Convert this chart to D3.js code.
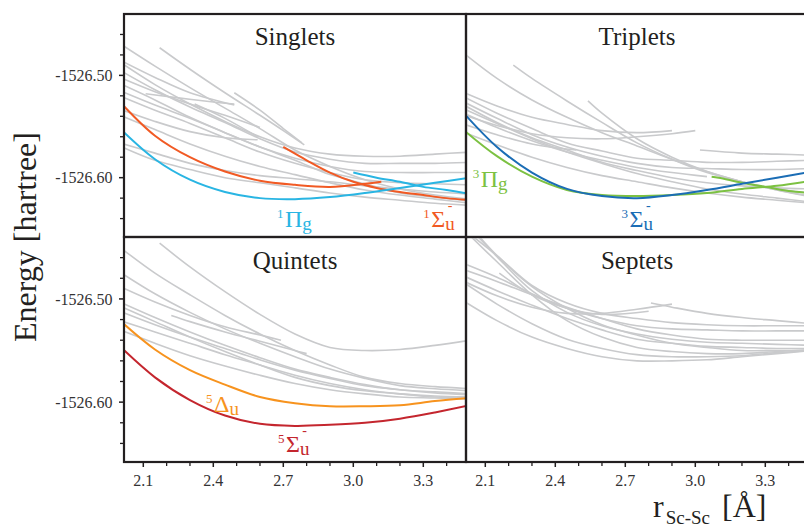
<!DOCTYPE html>
<html><head><meta charset="utf-8">
<script src="https://cdn.jsdelivr.net/npm/d3@7"></script>
<style>
body{margin:0;background:#fff}
svg{display:block}
</style>
</head><body><svg id="c" width="804" height="527"></svg>
<script>
// ---------- data ----------
const rGrid = [2.0, 2.15, 2.3, 2.45, 2.6, 2.75, 2.9, 3.05, 3.2, 3.35, 3.5];
const xTicksMajor = [2.1, 2.4, 2.7, 3.0, 3.3];
const xTickLabels = ["2.1", "2.4", "2.7", "3.0", "3.3"];
const xTicksMinor = [2.2, 2.3, 2.5, 2.6, 2.8, 2.9, 3.1, 3.2, 3.4];
const yTicksMajor = [-1526.5, -1526.6];
const yTickLabels = ["-1526.50", "-1526.60"];
const yTicksMinor = [-1526.64, -1526.62, -1526.58, -1526.56, -1526.54, -1526.52, -1526.48, -1526.46];
const panelTitles = ["Singlets", "Triplets", "Quintets", "Septets"];
const xDomain = [2.0173, 3.483];
const yDomain = [-1526.658, -1526.440];

const onGrid = E => E.map((e, i) => [rGrid[i], e]);
const zipRE = (r, E) => r.map((v, i) => [v, E[i]]);

// Singlets
const singletGrey = [
  onGrid([-1526.469,-1526.491,-1526.512,-1526.532,-1526.552,-1526.573,-1526.589,-1526.602,-1526.611,-1526.617,-1526.621]),
  onGrid([-1526.487,-1526.509,-1526.528,-1526.545,-1526.560,-1526.571,-1526.577,-1526.579,-1526.579,-1526.577,-1526.575]),
  onGrid([-1526.495,-1526.514,-1526.531,-1526.546,-1526.562,-1526.575,-1526.582,-1526.586,-1526.586,-1526.586,-1526.585]),
  onGrid([-1526.508,-1526.524,-1526.541,-1526.556,-1526.570,-1526.581,-1526.589,-1526.594,-1526.595,-1526.595,-1526.595]),
  onGrid([-1526.515,-1526.529,-1526.542,-1526.556,-1526.570,-1526.583,-1526.597,-1526.606,-1526.615,-1526.619,-1526.623]),
  onGrid([-1526.520,-1526.534,-1526.547,-1526.561,-1526.575,-1526.586,-1526.595,-1526.602,-1526.605,-1526.606,-1526.607]),
  onGrid([-1526.539,-1526.553,-1526.567,-1526.579,-1526.589,-1526.597,-1526.605,-1526.612,-1526.617,-1526.621,-1526.625]),
  onGrid([-1526.566,-1526.576,-1526.586,-1526.593,-1526.598,-1526.601,-1526.604,-1526.608,-1526.611,-1526.614,-1526.616]),
  onGrid([-1526.569,-1526.583,-1526.592,-1526.600,-1526.605,-1526.610,-1526.615,-1526.619,-1526.622,-1526.625,-1526.627]),
  zipRE([2.17,2.3,2.45,2.6,2.7,2.79], [-1526.473,-1526.494,-1526.517,-1526.539,-1526.554,-1526.568]),
  zipRE([2.49,2.6,2.7,2.78], [-1526.517,-1526.534,-1526.552,-1526.566]),
  zipRE([2.0,2.15,2.3,2.49], [-1526.485,-1526.502,-1526.517,-1526.529]),
  zipRE([2.0,2.15,2.3,2.45,2.6], [-1526.502,-1526.516,-1526.528,-1526.539,-1526.551]),
  zipRE([2.11,2.25,2.4,2.49], [-1526.518,-1526.522,-1526.526,-1526.528]),
  zipRE([2.32,2.45,2.59], [-1526.528,-1526.542,-1526.560]),
  zipRE([2.0,2.15,2.3,2.45,2.59], [-1526.533,-1526.545,-1526.555,-1526.561,-1526.563])
];
const singletPi1g = [
  onGrid([-1526.552,-1526.582,-1526.602,-1526.614,-1526.620,-1526.621,-1526.619,-1526.615,-1526.610,-1526.605,-1526.600]),
  zipRE([3.0,3.1,3.2,3.3,3.4,3.5], [-1526.595,-1526.600,-1526.604,-1526.609,-1526.612,-1526.616])
];
const singletSig1u = [
  zipRE([2.0,2.15,2.3,2.45,2.6,2.75,2.9,3.05,3.12], [-1526.526,-1526.559,-1526.580,-1526.594,-1526.603,-1526.607,-1526.609,-1526.606,-1526.604]),
  zipRE([2.7,2.8,2.9,3.0,3.1,3.2,3.3,3.4,3.5], [-1526.570,-1526.583,-1526.595,-1526.604,-1526.610,-1526.614,-1526.617,-1526.620,-1526.622])
];

// Triplets
const tripletGrey = [
  onGrid([-1526.477,-1526.503,-1526.524,-1526.541,-1526.556,-1526.569,-1526.582,-1526.594,-1526.604,-1526.612,-1526.619]),
  onGrid([-1526.520,-1526.537,-1526.552,-1526.566,-1526.574,-1526.581,-1526.583,-1526.585,-1526.585,-1526.584,-1526.583]),
  onGrid([-1526.525,-1526.542,-1526.558,-1526.570,-1526.579,-1526.586,-1526.590,-1526.591,-1526.592,-1526.592,-1526.591]),
  onGrid([-1526.532,-1526.547,-1526.562,-1526.575,-1526.586,-1526.596,-1526.604,-1526.611,-1526.616,-1526.620,-1526.624]),
  onGrid([-1526.555,-1526.568,-1526.580,-1526.590,-1526.598,-1526.604,-1526.610,-1526.615,-1526.619,-1526.622,-1526.625]),
  onGrid([-1526.528,-1526.546,-1526.561,-1526.573,-1526.585,-1526.593,-1526.600,-1526.605,-1526.608,-1526.610,-1526.611]),
  zipRE([2.22,2.3,2.45,2.6,2.75,2.9,3.05,3.2,3.35,3.5], [-1526.490,-1526.503,-1526.525,-1526.546,-1526.566,-1526.582,-1526.595,-1526.604,-1526.611,-1526.615]),
  zipRE([2.54,2.6,2.75,2.9,3.05,3.2,3.35,3.5], [-1526.525,-1526.537,-1526.562,-1526.580,-1526.594,-1526.604,-1526.612,-1526.618]),
  zipRE([2.0,2.15,2.3,2.45,2.6,2.75,2.9], [-1526.516,-1526.530,-1526.541,-1526.548,-1526.554,-1526.556,-1526.554]),
  zipRE([2.0,2.15,2.3,2.45,2.6,2.75,2.9,3.0], [-1526.538,-1526.549,-1526.557,-1526.561,-1526.562,-1526.560,-1526.557,-1526.554]),
  zipRE([2.0,2.15,2.3,2.49], [-1526.547,-1526.558,-1526.567,-1526.573]),
  zipRE([3.02,3.2,3.35,3.5], [-1526.573,-1526.576,-1526.577,-1526.578]),
  zipRE([2.0,2.15,2.3,2.45,2.6,2.75,2.9,3.05], [-1526.536,-1526.551,-1526.564,-1526.575,-1526.583,-1526.590,-1526.595,-1526.599])
];
const tripletPi3g = [
  onGrid([-1526.552,-1526.579,-1526.599,-1526.612,-1526.617,-1526.618,-1526.617,-1526.615,-1526.611,-1526.608,-1526.603]),
  zipRE([3.07,3.1,3.2,3.3,3.4,3.5], [-1526.599,-1526.600,-1526.605,-1526.609,-1526.613,-1526.615])
];
const tripletSig3u = [
  onGrid([-1526.535,-1526.570,-1526.595,-1526.611,-1526.618,-1526.620,-1526.617,-1526.612,-1526.606,-1526.600,-1526.594])
];

// Quintets
const quintetGrey = [
  onGrid([-1526.450,-1526.475,-1526.496,-1526.516,-1526.534,-1526.550,-1526.564,-1526.576,-1526.582,-1526.585,-1526.587]),
  onGrid([-1526.474,-1526.495,-1526.513,-1526.529,-1526.543,-1526.556,-1526.568,-1526.577,-1526.584,-1526.587,-1526.589]),
  onGrid([-1526.503,-1526.518,-1526.532,-1526.545,-1526.557,-1526.568,-1526.576,-1526.583,-1526.588,-1526.590,-1526.592]),
  onGrid([-1526.507,-1526.522,-1526.537,-1526.551,-1526.564,-1526.576,-1526.584,-1526.589,-1526.592,-1526.594,-1526.595]),
  onGrid([-1526.512,-1526.525,-1526.537,-1526.548,-1526.559,-1526.569,-1526.577,-1526.584,-1526.588,-1526.591,-1526.593]),
  onGrid([-1526.521,-1526.532,-1526.543,-1526.554,-1526.564,-1526.574,-1526.582,-1526.588,-1526.592,-1526.595,-1526.596]),
  onGrid([-1526.530,-1526.543,-1526.555,-1526.565,-1526.574,-1526.582,-1526.588,-1526.592,-1526.595,-1526.596,-1526.597]),
  zipRE([2.17,2.3,2.45,2.6,2.75,2.9,3.05,3.2,3.35,3.5], [-1526.446,-1526.469,-1526.493,-1526.515,-1526.534,-1526.547,-1526.550,-1526.549,-1526.545,-1526.540]),
  zipRE([2.0,2.15,2.3,2.45,2.6,2.69], [-1526.488,-1526.503,-1526.516,-1526.527,-1526.535,-1526.540]),
  zipRE([2.22,2.3,2.45,2.6,2.75,2.8], [-1526.516,-1526.522,-1526.532,-1526.541,-1526.550,-1526.553])
];
const quintetDel5u = [
  onGrid([-1526.521,-1526.549,-1526.569,-1526.583,-1526.595,-1526.601,-1526.604,-1526.604,-1526.603,-1526.599,-1526.596])
];
const quintetSig5u = [
  onGrid([-1526.546,-1526.576,-1526.598,-1526.613,-1526.621,-1526.623,-1526.622,-1526.620,-1526.616,-1526.610,-1526.603])
];

// Septets
const septetGrey = [
  onGrid([-1526.465,-1526.479,-1526.495,-1526.509,-1526.519,-1526.526,-1526.529,-1526.530,-1526.531,-1526.531,-1526.531]),
  onGrid([-1526.471,-1526.483,-1526.496,-1526.508,-1526.519,-1526.529,-1526.535,-1526.539,-1526.540,-1526.540,-1526.540]),
  onGrid([-1526.477,-1526.492,-1526.506,-1526.519,-1526.530,-1526.539,-1526.543,-1526.546,-1526.547,-1526.548,-1526.548]),
  onGrid([-1526.501,-1526.521,-1526.537,-1526.548,-1526.556,-1526.560,-1526.560,-1526.559,-1526.556,-1526.553,-1526.550]),
  onGrid([-1526.483,-1526.505,-1526.524,-1526.539,-1526.548,-1526.554,-1526.556,-1526.556,-1526.555,-1526.552,-1526.550]),
  zipRE([2.05,2.15,2.3,2.45,2.6,2.75,2.9,3.05,3.2,3.35,3.5], [-1526.440,-1526.458,-1526.487,-1526.504,-1526.514,-1526.519,-1526.523,-1526.525,-1526.526,-1526.526,-1526.526]),
  zipRE([2.07,2.15,2.3,2.45,2.6,2.75,2.9,3.05,3.2,3.35,3.5], [-1526.440,-1526.459,-1526.492,-1526.513,-1526.526,-1526.534,-1526.539,-1526.542,-1526.543,-1526.544,-1526.545]),
  zipRE([2.08,2.15,2.3,2.45,2.6,2.75,2.9,3.05,3.2,3.35,3.5], [-1526.441,-1526.458,-1526.488,-1526.509,-1526.525,-1526.535,-1526.543,-1526.547,-1526.550,-1526.550,-1526.550]),
  zipRE([2.04,2.15,2.3,2.45,2.6,2.75,2.9,3.05,3.2,3.35,3.5], [-1526.440,-1526.464,-1526.496,-1526.521,-1526.537,-1526.547,-1526.551,-1526.553,-1526.553,-1526.551,-1526.549]),
  zipRE([2.0,2.15,2.3,2.45,2.6,2.75,2.9], [-1526.482,-1526.497,-1526.508,-1526.514,-1526.514,-1526.510,-1526.505]),
  zipRE([2.81,2.9,3.05,3.2,3.35,3.5], [-1526.504,-1526.508,-1526.514,-1526.518,-1526.521,-1526.524]),
  zipRE([2.16,2.3,2.45,2.6,2.8], [-1526.475,-1526.496,-1526.509,-1526.515,-1526.512])
];

const colors = {grey:"#c9cacc", pi1g:"#29b5e3", sig1u:"#f15a24", pi3g:"#7cc142", sig3u:"#1b6db5", del5u:"#f7931e", sig5u:"#c4262e"};

const stateLabels = [
  {panel:0, sup:"1", main:"\u03A0", sub:"g", minus:false, r:2.673, E:-1526.6482, color:colors.pi1g},
  {panel:0, sup:"1", main:"\u03A3", sub:"u", minus:true,  r:3.300, E:-1526.6478, color:colors.sig1u},
  {panel:1, sup:"3", main:"\u03A0", sub:"g", minus:false, r:2.046, E:-1526.6095, color:colors.pi3g},
  {panel:1, sup:"3", main:"\u03A3", sub:"u", minus:true,  r:2.684, E:-1526.6486, color:colors.sig3u},
  {panel:2, sup:"5", main:"\u0394", sub:"u", minus:false, r:2.369, E:-1526.6097, color:colors.del5u},
  {panel:2, sup:"5", main:"\u03A3", sub:"u", minus:true,  r:2.677, E:-1526.6485, color:colors.sig5u}
];

const panels = [
  {grey:singletGrey, states:[{c:colors.sig1u, curves:singletSig1u},{c:colors.pi1g, curves:singletPi1g}]},
  {grey:tripletGrey, states:[{c:colors.pi3g, curves:tripletPi3g},{c:colors.sig3u, curves:tripletSig3u}]},
  {grey:quintetGrey, states:[{c:colors.del5u, curves:quintetDel5u},{c:colors.sig5u, curves:quintetSig5u}]},
  {grey:septetGrey, states:[]}
];
const layout = [
  {x:124, y:14, w:342, h:223, left:true, bottom:false},
  {x:466, y:14, w:342, h:223, left:false, bottom:false},
  {x:124, y:237, w:342, h:225, left:true, bottom:true},
  {x:466, y:237, w:342, h:225, left:false, bottom:true}
];

// ---------- pick an installed serif face, if any ----------
function pickSerif() {
  const cands = ["Liberation Serif", "Times New Roman", "Times", "Tinos", "DejaVu Serif", "Noto Serif", "FreeSerif", "Nimbus Roman", "Nimbus Roman No9 L"];
  const cv = document.createElement("canvas").getContext("2d");
  const s = "Singlets Energy [hartree] 1526.50 WMwmil";
  const base = {};
  ["monospace", "sans-serif"].forEach(b => { cv.font = "40px " + b; base[b] = cv.measureText(s).width; });
  for (const f of cands) {
    let ok = false;
    ["monospace", "sans-serif"].forEach(b => {
      cv.font = `40px "${f}", ${b}`;
      if (Math.abs(cv.measureText(s).width - base[b]) > 0.5) ok = true;
    });
    if (ok) return `"${f}", serif`;
  }
  return "serif";
}
const fontFam = pickSerif();

// ---------- drawing ----------
const svg = d3.select("#c").style("font-family", fontFam);
const ink = "#231f20";

panels.forEach((p, i) => {
  const L = layout[i];
  const x = d3.scaleLinear().domain(xDomain).range([0, L.w]);
  const y = d3.scaleLinear().domain(yDomain).range([L.h, 0]);
  const g = svg.append("g").attr("transform", `translate(${L.x},${L.y})`);
  const cid = "clip" + i;
  g.append("clipPath").attr("id", cid).append("rect").attr("width", L.w).attr("height", L.h);
  const line = d3.line().x(d => x(d[0])).y(d => y(d[1])).curve(d3.curveCatmullRom.alpha(0.5));
  const plot = g.append("g").attr("clip-path", `url(#${cid})`);
  plot.selectAll("path.grey").data(p.grey).join("path").attr("class", "grey")
    .attr("d", line).attr("fill", "none").attr("stroke", colors.grey).attr("stroke-width", 1.6);
  p.states.forEach(s => {
    plot.selectAll(null).data(s.curves).join("path")
      .attr("d", line).attr("fill", "none").attr("stroke", s.c).attr("stroke-width", 2);
  });

  // title
  g.append("text").attr("x", L.w / 2).attr("y", i < 2 ? 30.5 : 31.5)
    .attr("text-anchor", "middle").attr("font-size", 25)
    .attr("fill", ink).text(panelTitles[i]);

  // state labels
  stateLabels.filter(l => l.panel === i).forEach(l => {
    const t = g.append("text").attr("x", x(l.r)).attr("y", y(l.E)).attr("fill", l.color);
    t.append("tspan").attr("font-size", 13).attr("dy", -9).text(l.sup);
    t.append("tspan").attr("font-size", 24).attr("dy", 9).attr("dx", 1.5).text(l.main);
    t.append("tspan").attr("font-size", 19).attr("dy", 3).text(l.sub);
    if (l.minus) {
      const n = t.node();
      const idx = l.sup.length + l.main.length;
      const ext = n.getExtentOfChar(idx);
      g.append("text").attr("x", ext.x + ext.width / 2).attr("y", y(l.E) - 17)
        .attr("text-anchor", "middle").attr("font-size", 14)
        .attr("fill", l.color).text("-");
    }
  });

  // axes ticks
  if (L.left) {
    const ya = g.append("g");
    yTicksMinor.forEach(v => ya.append("line").attr("x1", -4).attr("x2", 0)
      .attr("y1", y(v)).attr("y2", y(v)).attr("stroke", ink).attr("stroke-width", 1.3));
    yTicksMajor.forEach((v, k) => {
      ya.append("line").attr("x1", -5).attr("x2", 0).attr("y1", y(v)).attr("y2", y(v))
        .attr("stroke", ink).attr("stroke-width", 1.5);
      ya.append("text").attr("x", -11.5).attr("y", y(v)).attr("dy", "0.36em")
        .attr("text-anchor", "end").attr("font-size", 16)
        .attr("fill", "#333").text(yTickLabels[k]);
    });
  }
  if (L.bottom) {
    const xa = g.append("g").attr("transform", `translate(0,${L.h})`);
    xTicksMinor.filter(v => x(v) <= L.w).forEach(v => xa.append("line").attr("x1", x(v)).attr("x2", x(v))
      .attr("y1", 0).attr("y2", 4).attr("stroke", ink).attr("stroke-width", 1.3));
    xTicksMajor.forEach((v, k) => {
      xa.append("line").attr("x1", x(v)).attr("x2", x(v)).attr("y1", 0).attr("y2", 5)
        .attr("stroke", ink).attr("stroke-width", 1.5);
      xa.append("text").attr("x", x(v)).attr("y", 24).attr("text-anchor", "middle")
        .attr("font-size", 16).attr("fill", "#333").text(xTickLabels[k]);
    });
  }
  // frame
  g.append("rect").attr("width", L.w).attr("height", L.h).attr("fill", "none")
    .attr("stroke", ink).attr("stroke-width", 2.2);
});

// axis titles
svg.append("text").attr("transform", "translate(36,237) rotate(-90)")
  .attr("text-anchor", "middle").attr("font-size", 32)
  .attr("fill", ink).text("Energy [hartree]");

const xt = svg.append("text").attr("x", 653).attr("y", 517)
  .attr("font-size", 32).attr("fill", ink);
xt.append("tspan").text("r");
xt.append("tspan").attr("font-size", 19).attr("dy", 7).attr("dx", 2).text("Sc-Sc");
xt.append("tspan").attr("dy", -7).attr("dx", 12).text("[\u00C5]");
</script></body></html>
